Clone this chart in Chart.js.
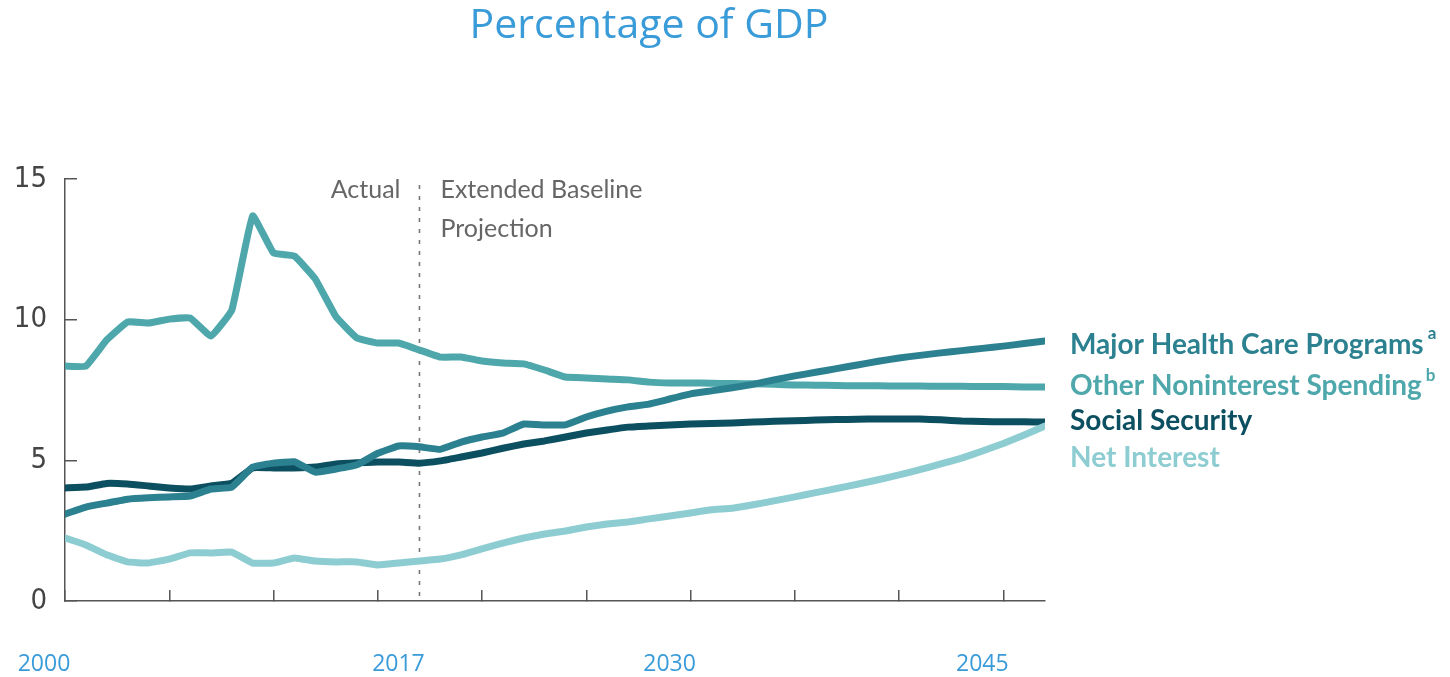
<!DOCTYPE html>
<html>
<head>
<meta charset="utf-8">
<script src="https://cdn.jsdelivr.net/npm/chart.js@4.4.1/dist/chart.umd.min.js"></script>
<style>
  html, body { margin: 0; padding: 0; background: #fff; }
  #wrap { width: 1450px; height: 677px; }
</style>
</head>
<body>
<div id="wrap"><canvas id="chart"></canvas></div>
<script>
// years on the x axis, 2000-2047
const years = [
  2000, 2001, 2002, 2003, 2004, 2005, 2006, 2007, 2008, 2009,
  2010, 2011, 2012, 2013, 2014, 2015, 2016, 2017, 2018, 2019,
  2020, 2021, 2022, 2023, 2024, 2025, 2026, 2027, 2028, 2029,
  2030, 2031, 2032, 2033, 2034, 2035, 2036, 2037, 2038, 2039,
  2040, 2041, 2042, 2043, 2044, 2045, 2046, 2047
];

// percent of GDP
const healthCare = [
  3.09, 3.34, 3.48, 3.62, 3.67, 3.70, 3.73, 3.98, 4.05, 4.76,
  4.90, 4.95, 4.58, 4.69, 4.84, 5.25, 5.51, 5.48, 5.39, 5.65,
  5.83, 5.97, 6.29, 6.26, 6.26, 6.54, 6.75, 6.90, 7.00, 7.18,
  7.36, 7.47, 7.58, 7.70, 7.86, 8.00, 8.13, 8.26, 8.39, 8.52,
  8.64, 8.73, 8.82, 8.90, 8.98, 9.06, 9.15, 9.24
];
const otherNoninterest = [
  8.35, 8.35, 9.28, 9.92, 9.88, 10.02, 10.06, 9.42, 10.34, 13.69,
  12.37, 12.26, 11.45, 10.10, 9.35, 9.17, 9.17, 8.92, 8.67, 8.67,
  8.53, 8.46, 8.43, 8.21, 7.96, 7.93, 7.89, 7.86, 7.78, 7.75,
  7.75, 7.74, 7.73, 7.72, 7.70, 7.68, 7.67, 7.66, 7.65, 7.65,
  7.64, 7.64, 7.63, 7.63, 7.62, 7.62, 7.61, 7.61
];
const socialSecurity = [
  4.02, 4.05, 4.18, 4.16, 4.09, 4.02, 3.98, 4.09, 4.19, 4.73,
  4.73, 4.73, 4.76, 4.87, 4.91, 4.94, 4.94, 4.90, 4.98, 5.12,
  5.26, 5.43, 5.58, 5.69, 5.83, 5.97, 6.08, 6.18, 6.22, 6.26,
  6.29, 6.31, 6.33, 6.36, 6.39, 6.41, 6.43, 6.45, 6.46, 6.47,
  6.47, 6.47, 6.44, 6.40, 6.38, 6.37, 6.37, 6.36
];
const netInterest = [
  2.24, 1.99, 1.64, 1.39, 1.35, 1.49, 1.71, 1.71, 1.74, 1.35,
  1.35, 1.53, 1.42, 1.39, 1.39, 1.28, 1.35, 1.42, 1.49, 1.64,
  1.85, 2.06, 2.24, 2.38, 2.49, 2.63, 2.74, 2.81, 2.92, 3.02,
  3.13, 3.24, 3.30, 3.42, 3.56, 3.70, 3.85, 4.00, 4.15, 4.31,
  4.48, 4.67, 4.87, 5.08, 5.33, 5.60, 5.90, 6.22
];

const yearLabels = [2000, 2017, 2030, 2045];
const yTicks = [0, 5, 10, 15];
const seriesNames = ["Major Health Care Programs", "Other Noninterest Spending", "Social Security", "Net Interest"];
const seriesNotes = ["a", "b", "", ""];
const splitYear = 2017;

// where the end labels sit, in y-axis units
const labelAnchors = [9.1, 7.64, 6.4, 5.08];
const colors = ["#2c8190", "#4da7ab", "#0c4f60", "#8dcdd2"];

function pts(vals) {
  return years.map((yr, i) => ({ x: yr, y: vals[i] }));
}

const textPlugin = {
  id: "texts",
  beforeDatasetsDraw(chart) {
    const ctx = chart.ctx;
    const area = chart.chartArea;
    const x = chart.scales.x.getPixelForValue(splitYear);
    ctx.save();
    ctx.strokeStyle = "#777";
    ctx.lineWidth = 1.6;
    ctx.setLineDash([4, 7]);
    ctx.beginPath();
    ctx.moveTo(x, area.top + 6);
    ctx.lineTo(x, area.bottom);
    ctx.stroke();
    ctx.restore();
  },
  afterDraw(chart) {
    const ctx = chart.ctx;
    const area = chart.chartArea;
    const xs = chart.scales.x;
    const ys = chart.scales.y;
    ctx.save();
    ctx.textBaseline = "middle";

    // title
    ctx.fillStyle = "#3a9bd9";
    ctx.font = '41px "Open Sans"';
    ctx.textAlign = "center";
    ctx.fillText("Percentage of GDP", 649, 26);

    // actual / projection notes
    const sx = xs.getPixelForValue(splitYear);
    ctx.fillStyle = "#666";
    ctx.font = '25px Lato';
    ctx.textAlign = "right";
    ctx.fillText("Actual", sx - 19, 190);
    ctx.textAlign = "left";
    ctx.fillText("Extended Baseline", sx + 21, 190);
    ctx.fillText("Projection", sx + 21, 229);

    // series labels at line ends
    const lx = area.right + 25;
    seriesNames.forEach((name, i) => {
      const y = ys.getPixelForValue(labelAnchors[i]);
      ctx.fillStyle = colors[i];
      ctx.font = 'bold 28px Lato';
      ctx.textAlign = "left";
      ctx.fillText(name, lx, y);
      if (seriesNotes[i]) {
        const w = ctx.measureText(name).width;
        ctx.font = 'bold 17px Lato';
        ctx.fillText(seriesNotes[i], lx + w + 4, y - 11);
      }
    });
    ctx.restore();
  }
};

const lineStyle = {
  borderWidth: 7,
  pointRadius: 0,
  tension: 0.1,
  borderJoinStyle: "round",
  borderCapStyle: "round",
  fill: false
};

new Chart(document.getElementById("chart"), {
  type: "line",
  data: {
    datasets: [
      { label: seriesNames[0], data: pts(healthCare), borderColor: colors[0], ...lineStyle },
      { label: seriesNames[1], data: pts(otherNoninterest), borderColor: colors[1], ...lineStyle },
      { label: seriesNames[3], data: pts(netInterest), borderColor: colors[3], ...lineStyle },
      { label: seriesNames[2], data: pts(socialSecurity), borderColor: colors[2], ...lineStyle }
    ]
  },
  options: {
    responsive: true,
    maintainAspectRatio: false,
    animation: false,
    layout: { padding: { top: 179, right: 405, bottom: 0, left: 0 } },
    plugins: {
      legend: { display: false },
      tooltip: { enabled: false }
    },
    scales: {
      x: {
        type: "linear",
        position: "bottom",
        weight: 0,
        min: 2000,
        max: 2047,
        ticks: { display: false, stepSize: 5, includeBounds: false },
        grid: { drawOnChartArea: false, tickLength: -11, color: "#555", lineWidth: 1.5 },
        border: { color: "#555", width: 1.5 },
        afterFit(scale) { scale.height = 48; }
      },
      x2: {
        type: "linear",
        position: "bottom",
        weight: 1,
        min: 2000,
        max: 2047,
        afterBuildTicks(scale) { scale.ticks = yearLabels.map(v => ({ value: v })); },
        ticks: {
          labelOffset: -21,
          padding: 2,
          color: "#3a9bd9",
          font: { family: "Open Sans", size: 23 },
          maxRotation: 0,
          autoSkip: false,
          callback: v => String(v)
        },
        grid: { display: false, drawTicks: false },
        border: { display: false },
        afterFit(scale) { scale.height = 28; }
      },
      y: {
        min: 0,
        max: 15,
        afterBuildTicks(scale) { scale.ticks = yTicks.map(v => ({ value: v })); },
        ticks: {
          padding: 30,
          color: "#444",
          font: { family: "'Liberation Sans Narrow', 'DejaVu Sans Condensed', sans-serif", size: 29 }
        },
        grid: { drawOnChartArea: false, tickLength: -12, color: "#555", lineWidth: 1.5 },
        border: { color: "#555", width: 1.5 },
        afterFit(scale) { scale.width = 65; }
      }
    }
  },
  plugins: [textPlugin]
});
</script>
</body>
</html>
